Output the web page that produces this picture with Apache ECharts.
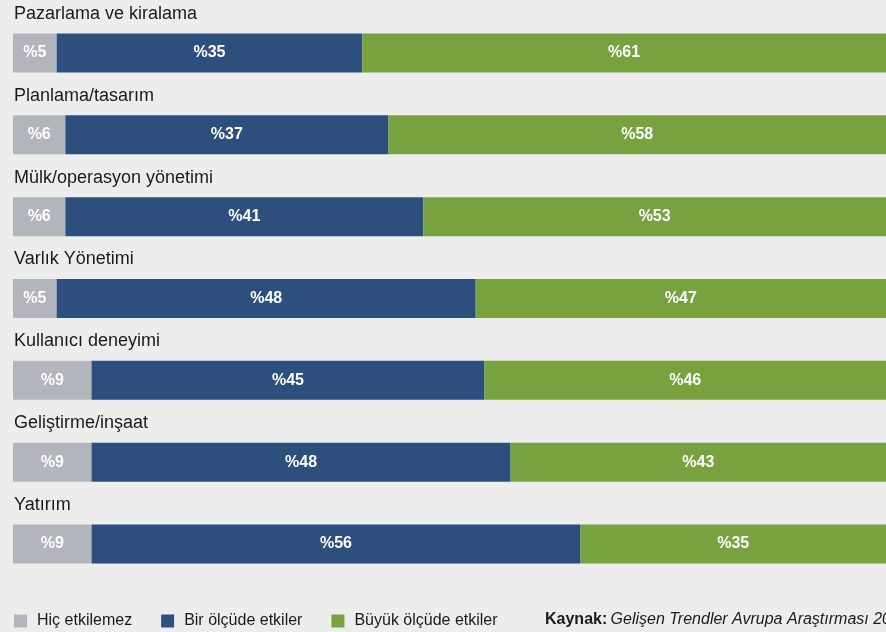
<!DOCTYPE html>
<html>
<head>
<meta charset="utf-8">
<script src="https://cdn.jsdelivr.net/npm/echarts@6/dist/echarts.min.js"></script>
<style>
  html, body { margin: 0; padding: 0; background: #ededee; }
  #chart { width: 886px; height: 632px; }
</style>
</head>
<body>
<div id="chart"></div>
<script>
// categories, top to bottom
const categories = [
    'Pazarlama ve kiralama',
    'Planlama/tasarım',
    'Mülk/operasyon yönetimi',
    'Varlık Yönetimi',
    'Kullanıcı deneyimi',
    'Geliştirme/inşaat',
    'Yatırım'
];
const seriesNames = ['Hiç etkilemez', 'Bir ölçüde etkiler', 'Büyük ölçüde etkiler'];
const noEffect   = [5, 6, 6, 5, 9, 9, 9];
const someEffect = [35, 37, 41, 48, 45, 48, 56];
const bigEffect  = [61, 58, 53, 47, 46, 43, 35];
const colors = ['#b2b6bc', '#2c4f7d', '#78a140'];
const FONT = 'Liberation Sans, Arial, sans-serif';

const chart = echarts.init(document.getElementById('chart'));

function makeSeries(name, data, color) {
    return {
        name: name,
        type: 'bar',
        stack: 'total',
        data: data,
        barWidth: 39,
        itemStyle: { color: color },
        label: {
            show: true,
            position: 'inside',
            color: '#fff',
            fontFamily: FONT,
            fontWeight: 'bold',
            fontSize: 16,
            formatter: function (p) { return '%' + p.value; }
        },
        emphasis: { disabled: true }
    };
}

const option = {
    backgroundColor: '#ededee',
    animation: false,
    grid: { left: 13, top: 12, width: 885, height: 573, containLabel: false },
    xAxis: {
        type: 'value',
        min: 0,
        max: 100,
        show: false
    },
    yAxis: {
        type: 'category',
        inverse: true,
        data: categories,
        axisLine: { show: false },
        axisTick: { show: false },
        axisLabel: {
            inside: true,
            verticalAlign: 'bottom',
            padding: [0, 0, 30, 0],
            color: '#1a1a1a',
            fontSize: 18,
            fontFamily: FONT,
            margin: 1
        }
    },
    legend: {
        left: 14,
        top: 613,
        padding: 0,
        icon: 'rect',
        itemWidth: 13,
        itemHeight: 13,
        itemGap: 29,
        textStyle: {
            color: '#1a1a1a',
            fontSize: 16,
            fontFamily: FONT,
            padding: [0, 0, 0, 5]
        },
        data: seriesNames,
        selectedMode: false
    },
    graphic: [{
        type: 'text',
        left: 545,
        top: 612,
        style: {
            text: '{b|Kaynak:} {i|Gelişen Trendler Avrupa Araştırması 2023}',
            rich: {
                b: { fontWeight: 'bold', fontSize: 16, fill: '#1a1a1a', fontFamily: FONT },
                i: { fontStyle: 'italic', fontSize: 16, fill: '#1a1a1a', fontFamily: FONT }
            }
        }
    }],
    series: [
        makeSeries(seriesNames[0], noEffect, colors[0]),
        makeSeries(seriesNames[1], someEffect, colors[1]),
        makeSeries(seriesNames[2], bigEffect, colors[2])
    ]
};

chart.setOption(option);
</script>
</body>
</html>
